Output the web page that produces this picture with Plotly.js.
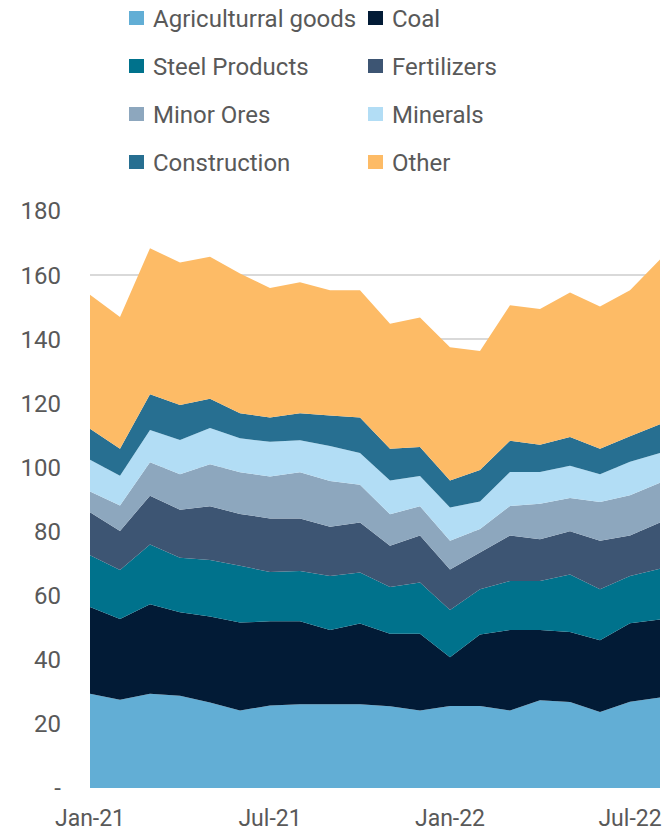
<!DOCTYPE html>
<html>
<head>
<meta charset="utf-8">
<script src="https://cdn.plot.ly/plotly-3.0.1.min.js"></script>
<style>
  html, body { margin: 0; padding: 0; background: #ffffff; }
  #chart { width: 666px; height: 839px; }
</style>
</head>
<body>
<div id="chart"></div>
<script>
// ---- Data ----
const months = ['Jan-21','Feb-21','Mar-21','Apr-21','May-21','Jun-21','Jul-21','Aug-21','Sep-21','Oct-21','Nov-21','Dec-21',
                'Jan-22','Feb-22','Mar-22','Apr-22','May-22','Jun-22','Jul-22','Aug-22'];
const tickLabels = ['Jan-21','Jul-21','Jan-22','Jul-22'];

const agricultural = [29.4,27.5,29.4,28.8,26.7,24.2,25.7,26.1,26.1,26.1,25.5,24.2,25.6,25.6,24.2,27.4,26.8,23.7,26.9,28.2];
const coal         = [27.1,25.2,27.9,26.0,26.8,27.4,26.3,25.9,23.2,25.2,22.6,23.9,15.2,22.3,25.1,21.9,21.9,22.4,24.5,24.4];
const steel        = [16.1,15.3,18.7,17.0,17.6,17.7,15.4,15.7,16.8,15.9,14.6,16.0,14.7,14.1,15.3,15.3,17.9,15.9,14.7,15.8];
const fertilizers  = [13.4,12.2,15.2,15.0,16.8,16.2,16.7,16.4,15.4,15.6,12.9,14.7,12.7,11.5,14.2,13.0,13.5,15.1,12.7,14.4];
const minorOres    = [6.5,7.9,10.4,11.1,13.1,13.0,13.1,14.4,14.3,11.8,9.8,9.1,8.9,7.3,9.2,11.1,10.4,12.1,12.5,12.4];
const minerals     = [9.9,9.3,10.1,10.7,11.3,10.6,10.8,10.0,10.9,9.9,10.5,9.4,10.4,8.6,10.6,9.9,10.0,8.7,10.5,9.3];
const construction = [9.7,8.4,11.1,10.9,9.1,7.8,7.6,8.4,9.5,11.1,9.9,9.1,8.4,9.8,9.7,8.5,9.0,7.9,7.9,9.0];
const other        = [41.8,41.1,45.6,44.4,44.3,43.6,40.4,40.9,39.1,39.7,39.0,40.4,41.6,37.1,42.3,42.3,45.1,44.4,45.6,51.4];

const seriesNames = ['Agriculturral goods','Coal','Steel Products','Fertilizers','Minor Ores','Minerals','Construction','Other'];
const seriesData  = [agricultural, coal, steel, fertilizers, minorOres, minerals, construction, other];
const seriesColors = ['#62AED5','#021B36','#00728C','#3D5573','#8DA7BE','#B2DDF5','#276F91','#FDBB66'];

const yTickVals = [0,20,40,60,80,100,120,140,160,180];
const yTickText = ['-','20','40','60','80','100','120','140','160','180'];

// ---- Traces ----
const traces = seriesData.map((vals, i) => ({
  type: 'scatter',
  mode: 'none',
  x: months,
  y: vals,
  name: seriesNames[i],
  stackgroup: 'one',
  fillcolor: seriesColors[i],
  showlegend: false,
  hoverinfo: 'x+y+name'
}));

// ---- Manual legend (2 columns x 4 rows) ----
const W = 666, H = 839;
const M = {l: 90, r: 6, t: 211, b: 51};
const pw = W - M.l - M.r, ph = H - M.t - M.b;
const px = X => (X - M.l) / pw;
const py = Y => (H - M.b - Y) / ph;

const legCols = [129, 368];
const legRows = [18, 66, 114, 162];
const shapes = [];
const annotations = [];
seriesNames.forEach((nm, i) => {
  const c = i % 2, r = Math.floor(i / 2);
  const sx = legCols[c], sy = legRows[r];
  shapes.push({
    type: 'rect', xref: 'paper', yref: 'paper',
    x0: px(sx), x1: px(sx + 15), y0: py(sy + 7), y1: py(sy - 7),
    fillcolor: seriesColors[i], line: {width: 0}
  });
  annotations.push({
    xref: 'paper', yref: 'paper', x: px(sx + 22), y: py(sy + 1),
    xanchor: 'left', yanchor: 'middle', showarrow: false,
    text: nm, font: {family: 'Roboto, sans-serif', size: 24, color: '#595959'}
  });
});

const layout = {
  width: W, height: H,
  margin: M,
  paper_bgcolor: '#ffffff',
  plot_bgcolor: '#ffffff',
  font: {family: 'Roboto, sans-serif', size: 24, color: '#595959'},
  showlegend: false,
  xaxis: {
    type: 'category',
    range: [0, months.length - 1],
    tickmode: 'array',
    tickvals: tickLabels,
    ticktext: tickLabels,
    showgrid: false,
    zeroline: false,
    showline: false,
    ticks: '',
    ticklabelstandoff: 14,
    tickfont: {size: 23, color: '#595959'}
  },
  yaxis: {
    range: [0, 180],
    tickmode: 'array',
    tickvals: yTickVals,
    ticktext: yTickText,
    showgrid: true,
    gridcolor: '#D9D9D9',
    gridwidth: 1.5,
    zeroline: false,
    showline: false,
    ticks: '',
    ticklabelstandoff: 28,
    tickfont: {size: 24, color: '#595959'}
  },
  shapes: shapes,
  annotations: annotations
};

Plotly.newPlot('chart', traces, layout, {displayModeBar: false, staticPlot: true});
</script>
</body>
</html>
